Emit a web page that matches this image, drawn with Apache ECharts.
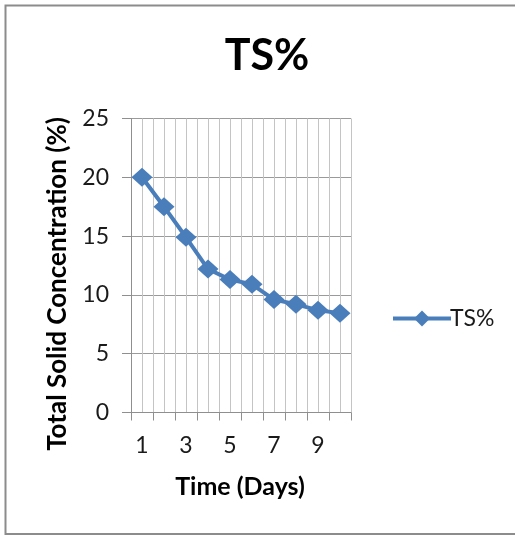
<!DOCTYPE html>
<html><head><meta charset="utf-8">
<script src="https://cdn.jsdelivr.net/npm/echarts@6/dist/echarts.min.js"></script>
<style>html,body{margin:0;padding:0;background:#fff}#c{width:515px;height:535px}</style>
</head><body><div id="c"></div>
<script>
var days = ['1','2','3','4','5','6','7','8','9','10'];
var tsValues = [20, 17.5, 14.9, 12.2, 11.3, 10.9, 9.6, 9.2, 8.7, 8.45];
var seriesName = 'TS%';
var chartTitle = 'TS%';
var xName = 'Time (Days)';
var yName = 'Total Solid Concentration (%)';
var FONT = 'Lato';
var chart = echarts.init(document.getElementById('c'));
chart.setOption({
  animation: false,
  backgroundColor: '#fff',
  title: { text: chartTitle, left: 262, textAlign: 'center', top: 30,
    textStyle: { fontFamily: FONT, fontWeight: 'bold', fontSize: 43, color: '#000' } },
  legend: { left: 386, top: 302, itemWidth: 58, itemHeight: 20, itemGap: 0,
    lineStyle: { width: 4, color: '#4a7ebb' },
    textStyle: { fontFamily: FONT, fontSize: 23, color: '#1a1a1a', padding: [0,0,0,-6] },
    data: [seriesName] },
  grid: { left: 131, right: 164, top: 118.5, bottom: 122.5, containLabel: false },
  xAxis: [{
    type: 'category', data: days, boundaryGap: true,
    name: xName, nameLocation: 'middle', nameGap: 62,
    nameTextStyle: { fontFamily: FONT, fontWeight: 'bold', fontSize: 25, color: '#000', padding: [0,0,0,-2] },
    axisLine: { lineStyle: { color: '#8f8f8f', width: 1 } },
    axisTick: { show: true, interval: 0, length: 8, lineStyle: { color: '#8f8f8f' } },
    axisLabel: { interval: 1, margin: 22, fontFamily: FONT, fontSize: 23, color: '#1a1a1a' },
    splitLine: { show: false }
  }, {
    type: 'value', min: 0.5, max: 10.5, interval: 0.5, position: 'top',
    axisLine: { show: false }, axisTick: { show: false }, axisLabel: { show: false },
    splitLine: { show: true, lineStyle: { color: '#c4c4c4', width: 1 } }
  }],
  yAxis: {
    type: 'value', min: 0, max: 25, interval: 5,
    axisLine: { show: true, lineStyle: { color: '#8f8f8f', width: 1 } },
    axisTick: { show: true, length: 9, lineStyle: { color: '#8f8f8f' } },
    axisLabel: { margin: 22, fontFamily: FONT, fontSize: 23, color: '#1a1a1a' },
    splitLine: { show: true, lineStyle: { color: '#9a9a9a', width: 1 } }
  },
  graphic: [
    { type: 'rect', shape: { x: 5.5, y: 5.5, width: 520, height: 528.5 },
      style: { fill: 'none', stroke: '#8c8c8c', lineWidth: 2 }, z: 100 },
    { type: 'text', x: 58, y: 284, rotation: Math.PI / 2,
      style: { text: yName, fontFamily: FONT, fontWeight: 'bold', fontSize: 26, fill: '#000',
        textAlign: 'center', textVerticalAlign: 'middle' } }
  ],
  series: [{
    name: seriesName, type: 'line', data: tsValues, xAxisIndex: 0,
    symbol: 'diamond', symbolSize: [21, 19], showAllSymbol: true,
    lineStyle: { color: '#4a7ebb', width: 4 },
    itemStyle: { color: '#4a7ebb' }
  }]
});
</script></body></html>
